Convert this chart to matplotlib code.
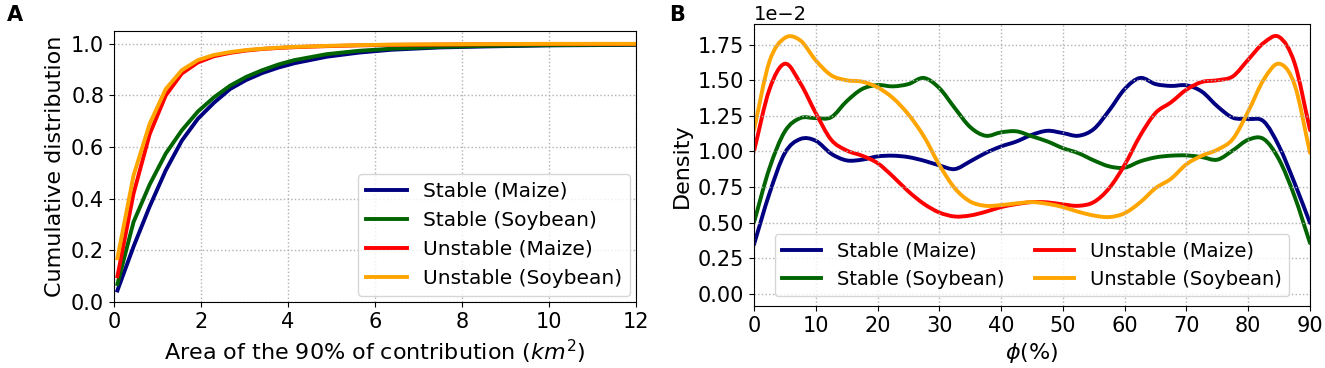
import numpy as np
import matplotlib
matplotlib.use("Agg")
import matplotlib.pyplot as plt
from matplotlib.path import Path
from matplotlib.patches import PathPatch

plt.rcParams['font.family'] = ['DejaVu Sans']
plt.rcParams['font.size'] = 14.5

# ---------------- Panel A data (CDF) ----------------
area_km2 = [0.08, 0.45, 0.82, 1.19, 1.56, 1.93, 2.30, 2.67, 3.04, 3.41, 3.78,
            4.15, 4.89, 5.63, 6.37, 7.48, 8.59, 10.0, 12.0]
cdf_stable_maize = [0.045, 0.215, 0.37, 0.51, 0.625, 0.71, 0.772, 0.825, 0.86, 0.887,
                    0.908, 0.925, 0.95, 0.966, 0.977, 0.986, 0.99, 0.994, 0.996]
cdf_stable_soy = [0.07, 0.31, 0.455, 0.575, 0.665, 0.738, 0.793, 0.838, 0.872, 0.898,
                  0.92, 0.937, 0.96, 0.973, 0.981, 0.988, 0.992, 0.995, 0.997]
cdf_unstable_maize = [0.10, 0.42, 0.65, 0.80, 0.885, 0.928, 0.952, 0.965, 0.974, 0.980,
                      0.984, 0.987, 0.991, 0.994, 0.996, 0.997, 0.998, 0.999, 0.999]
cdf_unstable_soy = [0.17, 0.49, 0.69, 0.825, 0.898, 0.937, 0.957, 0.968, 0.976, 0.981,
                    0.985, 0.988, 0.992, 0.995, 0.997, 0.998, 0.999, 1.0, 1.0]

# ---------------- Panel B data (density, x1e-2) ----------------
phi = [0, 2.5, 5, 7.5, 10, 12.5, 15, 17.5, 20, 22.5, 25, 27.5, 30, 32.5, 35, 37.5,
       40, 42.5, 45, 47.5, 50, 52.5, 55, 57.5, 60, 62.5, 65, 67.5, 70, 72.5, 75,
       77.5, 80, 82.5, 85, 87.5, 90]
dens_stable_maize = [0.345, 0.703, 0.988, 1.087, 1.075, 0.984, 0.937, 0.942, 0.965,
                     0.97, 0.96, 0.935, 0.902, 0.876, 0.93, 0.989, 1.035, 1.07, 1.117,
                     1.145, 1.129, 1.11, 1.157, 1.288, 1.438, 1.516, 1.473, 1.46, 1.464,
                     1.42, 1.317, 1.237, 1.228, 1.211, 1.035, 0.778, 0.497]
dens_stable_soy = [0.50, 0.88, 1.14, 1.234, 1.234, 1.24, 1.352, 1.438, 1.466, 1.457,
                   1.473, 1.516, 1.445, 1.305, 1.171, 1.11, 1.134, 1.141, 1.106, 1.07,
                   1.023, 0.988, 0.937, 0.895, 0.886, 0.93, 0.958, 0.97, 0.972, 0.96,
                   0.942, 1.007, 1.082, 1.087, 0.942, 0.684, 0.356]
dens_unstable_maize = [1.0, 1.434, 1.616, 1.48, 1.27, 1.082, 1.007, 0.97, 0.918, 0.824,
                       0.719, 0.632, 0.571, 0.543, 0.55, 0.576, 0.609, 0.63, 0.644, 0.642,
                       0.628, 0.618, 0.644, 0.742, 0.906, 1.11, 1.27, 1.345, 1.434, 1.488,
                       1.50, 1.527, 1.645, 1.762, 1.804, 1.62, 1.15]
dens_unstable_soy = [1.15, 1.63, 1.797, 1.78, 1.64, 1.535, 1.50, 1.49, 1.45, 1.375,
                     1.26, 1.106, 0.906, 0.742, 0.648, 0.618, 0.623, 0.635, 0.644, 0.632,
                     0.609, 0.576, 0.55, 0.539, 0.566, 0.642, 0.742, 0.808, 0.91, 0.97,
                     1.012, 1.087, 1.281, 1.504, 1.616, 1.469, 0.99]

labels = ["Stable (Maize)", "Stable (Soybean)", "Unstable (Maize)", "Unstable (Soybean)"]
colors = ["navy", "darkgreen", "red", "orange"]


def smooth_path(x, y):
    """Cubic Bezier path through the data points (Catmull-Rom tangents)."""
    P = np.column_stack([x, y]).astype(float)
    n = len(P)
    m = np.zeros_like(P)
    m[1:-1] = (P[2:] - P[:-2]) / 2.0
    m[0] = P[1] - P[0]
    m[-1] = P[-1] - P[-2]
    verts = [P[0]]
    codes = [Path.MOVETO]
    for i in range(n - 1):
        verts += [P[i] + m[i] / 3.0, P[i + 1] - m[i + 1] / 3.0, P[i + 1]]
        codes += [Path.CURVE4] * 3
    return Path(verts, codes)


fig = plt.figure(figsize=(13.25, 3.68), dpi=100)
axA = fig.add_axes([0.086, 0.179, 0.394, 0.737])
axB = fig.add_axes([0.569, 0.168, 0.4197, 0.766])

lw = 2.8
for y, lab, c in zip([cdf_stable_maize, cdf_stable_soy, cdf_unstable_maize, cdf_unstable_soy],
                     labels, colors):
    axA.plot(area_km2, y, color=c, lw=lw, label=lab)
axA.set_xlim(0, 12)
axA.set_ylim(0, 1.05)
axA.set_xticks(np.arange(0, 13, 2))
axA.set_yticks(np.arange(0, 1.01, 0.2))
axA.tick_params(labelsize=15)
axA.grid(True, linestyle=':', color='#b0b0b0', lw=1)
axA.set_xlabel("Area of the 90% of contribution ($km^2$)", fontsize=16)
axA.set_ylabel("Cumulative distribution", fontsize=16)
axA.legend(loc='lower right', fontsize=14.5, borderaxespad=0.3)
fig.text(0.005, 0.96, "A", fontsize=15, fontweight='bold', va='center', ha='left')

scale = 0.01
for y, lab, c in zip([dens_stable_maize, dens_stable_soy, dens_unstable_maize, dens_unstable_soy],
                     labels, colors):
    axB.add_patch(PathPatch(smooth_path(phi, np.array(y) * scale), fill=False,
                            edgecolor=c, lw=lw, capstyle='round', joinstyle='round'))
    axB.plot([], [], color=c, lw=lw, label=lab)
axB.set_xlim(0, 90)
axB.set_ylim(-0.087 * scale, 1.893 * scale)
axB.set_xticks(np.arange(0, 91, 10))
axB.set_yticks(np.arange(0, 1.76, 0.25) * scale)
axB.ticklabel_format(style='sci', axis='y', scilimits=(0, 0))
axB.tick_params(labelsize=15)
axB.yaxis.get_offset_text().set_fontsize(14)
axB.grid(True, linestyle=':', color='#b0b0b0', lw=1)
axB.set_xlabel(r"$\phi$(%)", fontsize=16)
axB.set_ylabel("Density", fontsize=16)
axB.legend(loc='lower center', ncol=2, fontsize=14, columnspacing=1.6,
           labelspacing=0.45)
fig.text(0.505, 0.96, "B", fontsize=15, fontweight='bold', va='center', ha='left')

fig.savefig("out.png", dpi=100)
